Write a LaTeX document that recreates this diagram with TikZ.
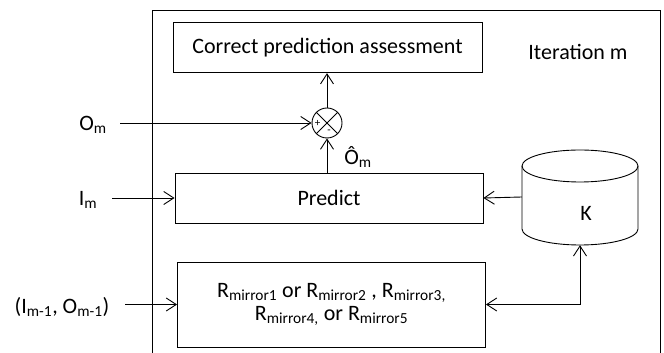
\documentclass[tikz,border=0pt]{standalone}
\usepackage{fontspec}
\setmainfont{Carlito}
\usetikzlibrary{arrows.meta}
\tikzset{
  box/.style={draw, line width=0.9pt, inner sep=0pt, font=\fontsize{22}{26}\selectfont},
  lbl/.style={inner sep=0pt, font=\fontsize{22}{26}\selectfont},
  tip/.tip={Straight Barb[length=10pt,width=13pt,line width=0.9pt]},
  arr/.style={line width=0.9pt, -tip},
  biarr/.style={line width=0.9pt, tip-tip},
  ln/.style={line width=0.9pt}
}
\begin{document}
\begin{tikzpicture}[x=1pt,y=1pt]
\useasboundingbox (0,0) rectangle (664,353);
% frame
\draw[ln] (152,0) -- (152,343) -- (660,343) -- (660,0);
% nodes
\node[box, minimum width=309, minimum height=50] (assess) at (327.5,305.3) {Correct prediction assessment\hspace{14pt}};
\node[lbl] (iter) at (578,301) {Iteration m};
\node[draw, circle, line width=0.9pt, minimum size=30, inner sep=0pt] (sum) at (327,230) {};
\draw[ln] (sum.45) -- (sum.225) (sum.135) -- (sum.315);
\node[inner sep=0pt, font=\fontsize{11}{12}\selectfont] (plus) at (sum.180) [xshift=6pt] {+};
\node[inner sep=0pt, font=\fontsize{11}{12}\selectfont] (minus) at (sum.270) [yshift=7pt, xshift=2pt] {-};
\node[box, minimum width=308, minimum height=50] (predict) at (329,155) {Predict};
\node[box, minimum width=308, minimum height=85, align=center] (rbox) at (331.5,48.5)
  {R\textsubscript{mirror1} or R\textsubscript{mirror2} , R\textsubscript{mirror3,}\\[-3pt]
   R\textsubscript{mirror4,} or R\textsubscript{mirror5}};
% cylinder
\node[minimum width=116, minimum height=96, inner sep=0pt] (cyl) at (580,156) {};
\draw[ln] (580,187) ellipse [x radius=58, y radius=16];
\draw[ln] (522,187) -- (522,124) arc[start angle=180, end angle=360, x radius=58, y radius=16] -- (638,187);
\node[lbl] (k) at (586,140) {K};
% labels
\node[lbl] (om) at (93,228) {O\textsubscript{m}};
\node[lbl] (im) at (88,153) {I\textsubscript{m}};
\node[lbl] (omhat) at (358,196) {Ô\textsubscript{m}};
\node[lbl] (prev) at (62,46) {(I\textsubscript{m-1}, O\textsubscript{m-1})};
\coordinate (omstart) at (120,230);
\coordinate (imstart) at (112,155);
\coordinate (prevstart) at (125,48.5);
% connectors
\draw[arr] (predict.north -| sum.south) -- (sum.south);
\draw[arr] (sum.north) -- (sum.north |- assess.south);
\draw[arr] (omstart) -- (sum.west);
\draw[arr] (imstart) -- (predict.west);
\draw[arr] (prevstart) -- (rbox.west);
\draw[arr] (cyl.west) -- (predict.east);
\draw[biarr] (rbox.east) -| (cyl.south);
\end{tikzpicture}
\end{document}
